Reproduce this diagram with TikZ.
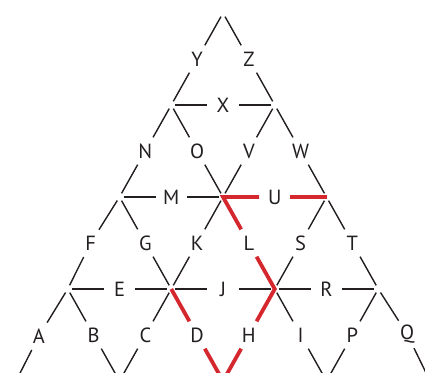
\documentclass[tikz,border=0pt]{standalone}
\usepackage{fontspec}
\setmainfont{PT Sans}
\usetikzlibrary{calc}
\definecolor{ink}{RGB}{35,31,32}
\definecolor{hl}{RGB}{213,40,46}
\begin{document}
\begin{tikzpicture}[x=1pt,y=-1pt,
  vtx/.style={circle,minimum size=8pt,inner sep=0pt},
  lab/.style={circle,minimum size=31pt,inner sep=0pt,text=ink,font=\fontsize{20.5}{21}\selectfont},
  edge/.style={draw=ink,line width=1.4pt},
  hot/.style={draw=hl,line width=3.8pt,line join=miter}]
\useasboundingbox (0,0) rectangle (425,372);
\clip (0,0) rectangle (425,372);
% vertices
\node[vtx] (v00) at (223,13) {};
\node[vtx] (v10) at (171.25,105) {};
\node[vtx] (v11) at (274.75,105) {};
\node[vtx] (v20) at (119.5,197) {};
\node[vtx] (v21) at (223,197) {};
\node[vtx] (v22) at (326.5,197) {};
\node[vtx] (v30) at (67.75,289) {};
\node[vtx] (v31) at (171.25,289) {};
\node[vtx] (v32) at (274.75,289) {};
\node[vtx] (v33) at (378.25,289) {};
\node[vtx] (v40) at (16,381) {};
\node[vtx] (v41) at (119.5,381) {};
\node[vtx] (v42) at (223,381) {};
\node[vtx] (v43) at (326.5,381) {};
\node[vtx] (v44) at (430,381) {};
% labels
\node[lab] (Y) at ($(v00)!0.5!(v10)$) {Y};
\node[lab] (Z) at ($(v00)!0.5!(v11)$) {Z};
\node[lab] (X) at ($(v10)!0.5!(v11)$) {X};
\node[lab] (N) at ($(v10)!0.5!(v20)$) {N};
\node[lab] (O) at ($(v10)!0.5!(v21)$) {O};
\node[lab] (V) at ($(v11)!0.5!(v21)$) {V};
\node[lab] (W) at ($(v11)!0.5!(v22)$) {W};
\node[lab] (M) at ($(v20)!0.5!(v21)$) {M};
\node[lab] (U) at ($(v21)!0.5!(v22)$) {U};
\node[lab] (F) at ($(v20)!0.5!(v30)+(-3,0)$) {F};
\node[lab] (G) at ($(v20)!0.5!(v31)$) {G};
\node[lab] (K) at ($(v21)!0.5!(v31)$) {K};
\node[lab] (L) at ($(v21)!0.5!(v32)$) {L};
\node[lab] (S) at ($(v22)!0.5!(v32)$) {S};
\node[lab] (T) at ($(v22)!0.5!(v33)$) {T};
\node[lab] (E) at ($(v30)!0.5!(v31)$) {E};
\node[lab] (J) at ($(v31)!0.5!(v32)$) {J};
\node[lab] (R) at ($(v32)!0.5!(v33)$) {R};
\node[lab] (A) at ($(v30)!0.5!(v40)+(-3,1)$) {A};
\node[lab] (B) at ($(v30)!0.5!(v41)$) {B};
\node[lab] (C) at ($(v31)!0.5!(v41)$) {C};
\node[lab] (D) at ($(v31)!0.5!(v42)$) {D};
\node[lab] (H) at ($(v32)!0.5!(v42)$) {H};
\node[lab] (I) at ($(v32)!0.5!(v43)$) {I};
\node[lab] (P) at ($(v33)!0.5!(v43)$) {P};
\node[lab] (Q) at ($(v33)!0.5!(v44)+(3,-1)$) {Q};
% black edges
\path[edge] (v00) -- (Y) -- (v10);
\path[edge] (v00) -- (Z) -- (v11);
\path[edge] (v10) -- (X) -- (v11);
\path[edge] (v10) -- (N) -- (v20);
\path[edge] (v10) -- (O) -- (v21);
\path[edge] (v11) -- (V) -- (v21);
\path[edge] (v11) -- (W) -- (v22);
\path[edge] (v20) -- (M) -- (v21);
\path[edge] (v20) -- (F) -- (v30);
\path[edge] (v20) -- (G) -- (v31);
\path[edge] (v21) -- (K) -- (v31);
\path[edge] (v22) -- (S) -- (v32);
\path[edge] (v22) -- (T) -- (v33);
\path[edge] (v30) -- (E) -- (v31);
\path[edge] (v31) -- (J) -- (v32);
\path[edge] (v32) -- (R) -- (v33);
\path[edge] (v30) -- (A) -- (v40);
\path[edge] (v30) -- (B) -- (v41);
\path[edge] (v31) -- (C) -- (v41);
\path[edge] (v32) -- (I) -- (v43);
\path[edge] (v33) -- (P) -- (v43);
\path[edge] (v33) -- (Q) -- (v44);
% highlighted path
\path[hot] (U) -- (v21.center) -- (L);
\path[hot] (U) -- (v22.center);
\path[hot] (L) -- (v32.center) -- (H);
\path[hot] (D) -- (v42.center) -- (H);
\path[hot] (v31.center) -- (D);
\end{tikzpicture}
\end{document}
